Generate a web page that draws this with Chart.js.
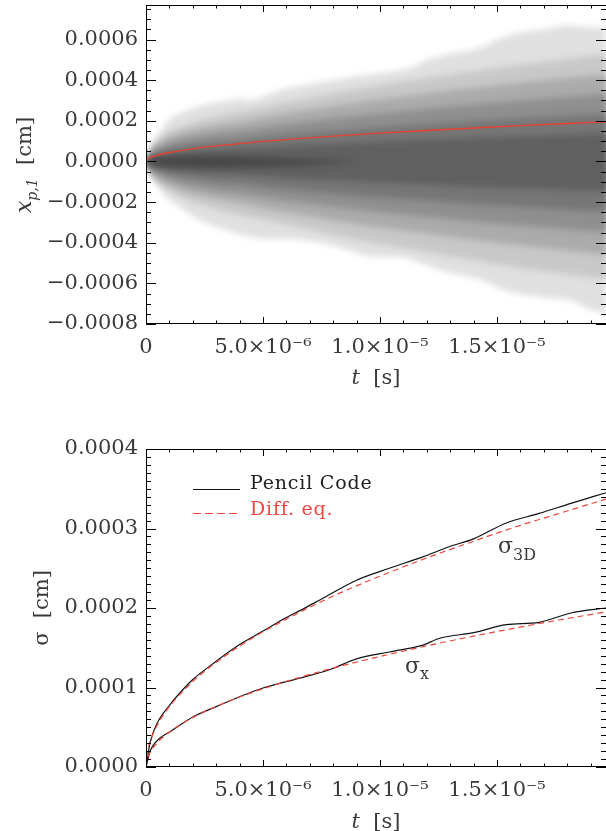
<!DOCTYPE html>
<html><head><meta charset="utf-8">
<script src="https://cdn.jsdelivr.net/npm/chart.js@4.4.0/dist/chart.umd.min.js"></script>
<style>
html,body{margin:0;padding:0;background:#fff;}
#wrap{position:relative;width:606px;height:831px;overflow:hidden;background:#fff;}
canvas{position:absolute;left:0;}
</style></head><body>
<div id="wrap">
<canvas id="c1" width="606" height="415" style="top:0"></canvas>
<canvas id="c2" width="606" height="416" style="top:415px"></canvas>
</div>
<script>
// ---------------- DATA (time in microseconds, lengths in 1e-4 cm) ----------------
const tMaxUs = 19.66;
const xTickValues = [0, 5, 10, 15];
const xTickLabels = ['0', '5.0×10⁻⁶', '1.0×10⁻⁵', '1.5×10⁻⁵'];
const yTopTicks = [-8, -6, -4, -2, 0, 2, 4, 6];
const yTopTickLabels = ['−0.0008', '−0.0006', '−0.0004', '−0.0002', '0.0000', '0.0002', '0.0004', '0.0006'];
const yBotTicks = [0, 1, 2, 3, 4];
const yBotTickLabels = ['0.0000', '0.0001', '0.0002', '0.0003', '0.0004'];

// particle cloud: outer envelope of all trajectories
const cloudOuterT = [0,0.25,0.5,0.75,1,1.5,2,2.5,3,3.5,4,4.5,5,5.5,6,6.5,7,7.5,8,8.5,9,9.5,10,10.5,11,11.5,12,12.5,13,13.5,14,14.5,15,15.5,16,16.5,17,17.5,18,18.5,19,19.66];
const cloudOuterUp = [0,0.8,1.3,1.7,2.1,2.4,2.6,2.8,2.9,3.0,3.1,3.0,3.2,3.4,3.6,3.7,3.8,3.9,4.0,4.1,4.2,4.25,4.35,4.4,4.5,4.7,5.0,5.15,5.3,5.4,5.5,5.7,6.0,6.2,6.35,6.45,6.5,6.6,6.7,6.65,6.6,6.55];
const cloudOuterLo = [0,-0.8,-1.2,-1.6,-1.9,-2.3,-2.7,-3.0,-3.2,-3.4,-3.6,-3.7,-3.8,-3.8,-3.8,-3.85,-3.9,-4.0,-4.15,-4.3,-4.5,-4.65,-4.7,-4.7,-4.7,-4.9,-5.1,-5.3,-5.5,-5.6,-5.7,-5.9,-6.2,-6.4,-6.55,-6.6,-6.7,-6.75,-6.8,-7.0,-7.3,-7.5];
// density bands of the cloud (from light to dark)
const bandT = [0,0.25,0.5,1,1.5,2,3,4,5,6,7,8,9,10,11,12,13,14,15,16,17,18,19,19.66];
const bandAUp = [0,0.75,1.05,1.45,1.7,1.9,2.2,2.45,2.66,2.91,3.14,3.36,3.56,3.75,3.94,4.11,4.28,4.44,4.6,4.75,4.9,5.04,5.18,5.27];
const bandALo = [0,-0.75,-1.05,-1.45,-1.75,-2.0,-2.35,-2.65,-2.85,-3.1,-3.35,-3.6,-3.85,-4.05,-4.25,-4.45,-4.65,-4.85,-5.05,-5.25,-5.4,-5.55,-5.7,-5.8];
const bandBUp = [0,0.6,0.85,1.2,1.4,1.55,1.78,1.94,2.17,2.37,2.56,2.74,2.9,3.06,3.21,3.35,3.49,3.62,3.75,3.87,3.99,4.11,4.22,4.29];
const bandBLo = [0,-0.6,-0.85,-1.2,-1.42,-1.6,-1.85,-2.05,-2.3,-2.5,-2.7,-2.9,-3.08,-3.25,-3.4,-3.55,-3.7,-3.85,-4.0,-4.12,-4.25,-4.38,-4.5,-4.58];
const bandCUp = [0,0.46,0.65,0.92,1.08,1.2,1.38,1.5,1.67,1.83,1.98,2.12,2.24,2.36,2.48,2.59,2.7,2.8,2.9,2.99,3.08,3.17,3.26,3.32];
const bandCLo = [0,-0.46,-0.65,-0.92,-1.1,-1.24,-1.45,-1.58,-1.76,-1.93,-2.08,-2.23,-2.36,-2.49,-2.61,-2.73,-2.84,-2.95,-3.05,-3.15,-3.25,-3.34,-3.43,-3.49];
const bandDUp = [0,0.32,0.45,0.64,0.76,0.85,0.97,1.06,1.18,1.29,1.4,1.49,1.58,1.67,1.75,1.83,1.9,1.98,2.05,2.11,2.18,2.24,2.3,2.34];
const bandDLo = [0,-0.32,-0.45,-0.64,-0.78,-0.88,-1.02,-1.1,-1.24,-1.36,-1.47,-1.57,-1.67,-1.76,-1.84,-1.92,-2.0,-2.08,-2.15,-2.22,-2.29,-2.36,-2.42,-2.46];
const bandEUp = [0,0.19,0.26,0.37,0.44,0.5,0.56,0.62,0.69,0.76,0.82,0.87,0.92,0.97,1.02,1.07,1.11,1.15,1.19,1.23,1.27,1.31,1.34,1.37];
const bandELo = [0,-0.19,-0.27,-0.38,-0.46,-0.52,-0.6,-0.66,-0.74,-0.81,-0.87,-0.93,-0.99,-1.04,-1.09,-1.14,-1.19,-1.23,-1.28,-1.32,-1.36,-1.4,-1.44,-1.46];
// darkest core close to the release point
const coreT  = [0,0.25,0.5,1,1.5,2,3,4,5,6,7,8,9];
const coreUp = [0,0.14,0.19,0.24,0.26,0.27,0.26,0.24,0.2,0.15,0.1,0.05,0];
const coreLo = [0,-0.14,-0.2,-0.26,-0.29,-0.3,-0.3,-0.29,-0.26,-0.22,-0.17,-0.1,0];

// sigma curves (bottom panel)
const pencil3DT = [0,0.17,0.46,1.03,1.58,2.0,3.0,4.0,5.0,6.0,6.6,7.6,9.0,10.4,11.8,12.95,14.0,15.4,16.8,18.2,19.66];
const pencil3D  = [0,0.30,0.54,0.785,0.975,1.10,1.33,1.54,1.71,1.88,1.97,2.13,2.35,2.50,2.64,2.77,2.87,3.07,3.19,3.32,3.45];
const pencilXT  = [0,0.17,0.6,1.03,1.58,2.16,3.0,4.0,5.0,6.0,6.6,7.9,9.0,10.4,11.8,12.56,14.0,15.4,16.8,18.2,19.66];
const pencilX   = [0,0.193,0.365,0.444,0.553,0.654,0.759,0.884,0.994,1.073,1.12,1.23,1.36,1.447,1.53,1.62,1.69,1.79,1.82,1.94,2.0];
const diffT     = [0,0.05,0.17,0.46,1,2,3,4,5,6,8,10,12,14,16,18,19.66];
const diff3D    = [0,0.17,0.313,0.515,0.76,1.075,1.316,1.52,1.70,1.86,2.15,2.40,2.63,2.84,3.04,3.22,3.37];
const diffX     = [0,0.098,0.181,0.298,0.44,0.622,0.762,0.88,0.984,1.078,1.245,1.39,1.524,1.646,1.76,1.867,1.95];

// ---------------- helpers ----------------
const pts = (t, v) => t.map((ti, i) => ({x: ti, y: v[i]}));
const FONT = '"DejaVu Serif"';
const TXT = '#3a3a3a';

function rich(ctx, parts, x, y, align, rot, spacing) {
  ctx.save();
  ctx.translate(x, y);
  if (rot) ctx.rotate(rot);
  if (spacing) ctx.letterSpacing = spacing;
  let w = 0;
  parts.forEach(p => { ctx.font = p.f; w += ctx.measureText(p.t).width; });
  let cx = align === 'center' ? -w / 2 : 0;
  ctx.textBaseline = 'alphabetic';
  ctx.textAlign = 'left';
  parts.forEach(p => {
    ctx.font = p.f; ctx.fillStyle = p.c || TXT;
    ctx.fillText(p.t, cx, p.dy || 0);
    cx += ctx.measureText(p.t).width;
  });
  ctx.restore();
}

function framePlugin(cfg) {
  return {
    id: 'frame',
    afterDraw(chart) {
      const {ctx, chartArea: a, scales: {x, y}} = chart;
      ctx.save();
      ctx.strokeStyle = '#000';
      ctx.lineWidth = 1;
      ctx.beginPath();
      ctx.rect(a.left + 0.5, a.top + 0.5, a.right - a.left, a.bottom - a.top - 1);
      ctx.stroke();
      ctx.beginPath();
      for (let v = 0; v <= tMaxUs + 1e-9; v += 1) {
        const px = Math.round(x.getPixelForValue(v)) + 0.5;
        const major = Math.abs(v / 5 - Math.round(v / 5)) < 1e-6;
        const L = major ? 7 : 3.5;
        ctx.moveTo(px, a.bottom); ctx.lineTo(px, a.bottom - L);
        ctx.moveTo(px, a.top); ctx.lineTo(px, a.top + L);
      }
      const n = Math.round((cfg.yMax - cfg.yMin) / cfg.yMinor) + 2;
      for (let k = 0; k < n; k++) {
        const v = cfg.yStart + k * cfg.yMinor;
        if (v < cfg.yMin - 1e-9 || v > cfg.yMax + 1e-9) continue;
        const py = Math.round(y.getPixelForValue(v)) + 0.5;
        const r = v / cfg.yMajor;
        const major = Math.abs(r - Math.round(r)) < 1e-6;
        const L = major ? 10 : 5;
        ctx.moveTo(a.left, py); ctx.lineTo(a.left + L, py);
        ctx.moveTo(a.right, py); ctx.lineTo(a.right - L, py);
      }
      ctx.stroke();
      ctx.restore();
      cfg.extra && cfg.extra(ctx, chart);
    }
  };
}

// soft edges for the density bands of the cloud (style only)
const softCloud = {
  id: 'softCloud',
  beforeDatasetsDraw(chart) { chart.ctx.filter = 'blur(3px)'; },
  beforeDatasetDraw(chart, args) { if (args.index === 0) chart.ctx.filter = 'none'; },
  afterDatasetsDraw(chart) { chart.ctx.filter = 'none'; }
};

function makeScales(o) {
  return {
    x: {
      type: 'linear', min: 0, max: tMaxUs,
      afterBuildTicks: s => { s.ticks = xTickValues.map(v => ({value: v})); },
      afterFit: s => { s.height = o.xh; s.paddingLeft = 0; s.paddingRight = 0; s.paddingTop = 0; s.paddingBottom = 0; },
      grid: {display: false, drawTicks: false},
      border: {display: false},
      ticks: {callback: (v, i) => xTickLabels[i], font: {family: 'DejaVu Serif', size: 21}, color: TXT,
              padding: 11, maxRotation: 0, autoSkip: false}
    },
    y: {
      type: 'linear', min: o.yMin, max: o.yMax,
      afterBuildTicks: s => { s.ticks = o.yTicks.map(v => ({value: v})); },
      afterFit: s => { s.width = 146; s.paddingLeft = 0; s.paddingRight = 0; s.paddingTop = 0; s.paddingBottom = 0; },
      grid: {display: false, drawTicks: false},
      border: {display: false},
      ticks: {callback: (v, i) => o.yLabels[i], font: {family: 'DejaVu Serif', size: 21}, color: TXT,
              padding: 8, autoSkip: false}
    }
  };
}

const common = {
  responsive: false, animation: false, events: [],
  plugins: {legend: {display: false}, tooltip: {enabled: false}}
};

// ---------------- TOP CHART ----------------
const topDs = [];
topDs.push({data: pts(diffT, diffX), borderColor: '#ea3f2e', borderWidth: 1.3, pointRadius: 0, fill: false,
            order: 0, cubicInterpolationMode: 'monotone'});
function addBand(t, up, lo, color, order) {
  topDs.push({data: pts(t, up), fill: '+1', backgroundColor: color, borderColor: 'rgba(0,0,0,0)',
              borderWidth: 0, pointRadius: 0, order});
  topDs.push({data: pts(t, lo), fill: false, borderColor: 'rgba(0,0,0,0)', borderWidth: 0, pointRadius: 0, order});
}
addBand(cloudOuterT, cloudOuterUp, cloudOuterLo, '#e0e0e0', 10);
addBand(bandT, bandAUp, bandALo, '#c8c8c8', 9);
addBand(bandT, bandBUp, bandBLo, '#ababab', 8);
addBand(bandT, bandCUp, bandCLo, '#8f8f8f', 7);
addBand(bandT, bandDUp, bandDLo, '#767676', 6);
addBand(bandT, bandEUp, bandELo, '#606060', 5);
addBand(coreT, coreUp, coreLo, '#474747', 4);

new Chart(document.getElementById('c1'), {
  type: 'line',
  data: {datasets: topDs},
  options: Object.assign({}, common, {
    layout: {padding: {top: 5, left: 0, right: 0, bottom: 0}},
    scales: makeScales({xh: 91, yMin: -8, yMax: 7.7, yTicks: yTopTicks, yLabels: yTopTickLabels})
  }),
  plugins: [softCloud, framePlugin({yMin: -8, yMax: 7.7, yStart: -8, yMinor: 0.5, yMajor: 2,
    extra: (ctx) => {
      rich(ctx, [{t: 'x', f: `italic 22px ${FONT}`}, {t: 'p,1', f: `italic 14px ${FONT}`, dy: 6},
                 {t: '  [cm]', f: `21px ${FONT}`}], 31, 165, 'center', -Math.PI / 2);
      rich(ctx, [{t: 't', f: `italic 21px ${FONT}`}, {t: '  [s]', f: `21px ${FONT}`}], 376, 384, 'center');
    }})]
});

// ---------------- BOTTOM CHART ----------------
const botDs = [
  {data: pts(pencil3DT, pencil3D), borderColor: '#111', borderWidth: 1.2, pointRadius: 0, fill: false, order: 1,
   cubicInterpolationMode: 'monotone'},
  {data: pts(pencilXT, pencilX), borderColor: '#111', borderWidth: 1.2, pointRadius: 0, fill: false, order: 1,
   cubicInterpolationMode: 'monotone'},
  {data: pts(diffT, diff3D), borderColor: '#f0463c', borderWidth: 1.2, borderDash: [6, 4], pointRadius: 0, fill: false,
   order: 0, cubicInterpolationMode: 'monotone'},
  {data: pts(diffT, diffX), borderColor: '#f0463c', borderWidth: 1.2, borderDash: [6, 4], pointRadius: 0, fill: false,
   order: 0, cubicInterpolationMode: 'monotone'}
];

new Chart(document.getElementById('c2'), {
  type: 'line',
  data: {datasets: botDs},
  options: Object.assign({}, common, {
    layout: {padding: {top: 34, left: 0, right: 0, bottom: 0}},
    scales: makeScales({xh: 64, yMin: 0, yMax: 4, yTicks: yBotTicks, yLabels: yBotTickLabels})
  }),
  plugins: [framePlugin({yMin: 0, yMax: 4, yStart: 0, yMinor: 0.1, yMajor: 1,
    extra: (ctx) => {
      rich(ctx, [{t: 'σ', f: `21px ${FONT}`}, {t: '  [cm]', f: `21px ${FONT}`}], 48, 193, 'center', -Math.PI / 2);
      rich(ctx, [{t: 't', f: `italic 21px ${FONT}`}, {t: '  [s]', f: `21px ${FONT}`}], 376, 413, 'center');
      ctx.save();
      ctx.lineWidth = 1.2;
      ctx.strokeStyle = '#111';
      ctx.beginPath(); ctx.moveTo(193, 74.5); ctx.lineTo(240, 74.5); ctx.stroke();
      ctx.strokeStyle = '#f0463c'; ctx.setLineDash([8, 4]);
      ctx.beginPath(); ctx.moveTo(193, 98.5); ctx.lineTo(240, 98.5); ctx.stroke();
      ctx.setLineDash([]);
      ctx.restore();
      rich(ctx, [{t: 'Pencil Code', f: `19px ${FONT}`, c: '#222'}], 250, 74, 'left', 0, '0.8px');
      rich(ctx, [{t: 'Diff. eq.', f: `19px ${FONT}`, c: '#f0463c'}], 250, 100, 'left', 0, '0.8px');
      rich(ctx, [{t: 'σ', f: `22px ${FONT}`}, {t: '3D', f: `16px ${FONT}`, dy: 7}], 498, 138, 'left');
      rich(ctx, [{t: 'σ', f: `22px ${FONT}`}, {t: 'x', f: `16px ${FONT}`, dy: 6}], 405, 258, 'left');
    }})]
});
</script>
</body></html>
